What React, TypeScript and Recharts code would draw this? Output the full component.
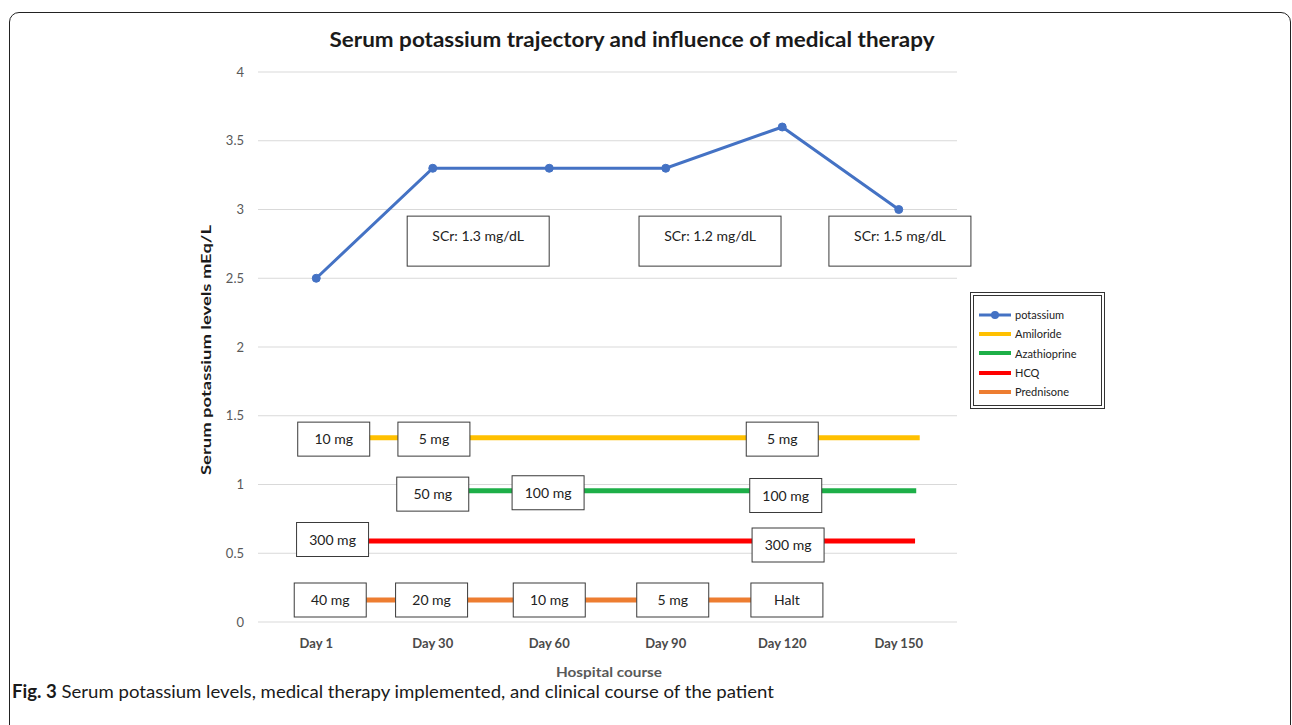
import React from 'react';
import { ComposedChart, Line, Scatter, XAxis, YAxis, CartesianGrid, Legend } from 'recharts';

// ---- data ----
const dayLabels = ['Day 1', 'Day 30', 'Day 60', 'Day 90', 'Day 120', 'Day 150'];
const dayIndex = [0, 1, 2, 3, 4, 5];
const yTicks = [0, 0.5, 1, 1.5, 2, 2.5, 3, 3.5, 4];
const potassiumValues = [2.5, 3.3, 3.3, 3.3, 3.6, 3.0];

// medication therapy lines: [start day index, end day index] at a display level
const amilorideLine = [{ x: 0, y: 1.34 }, { x: 5.18, y: 1.34 }];
const azathioprineLine = [{ x: 1, y: 0.955 }, { x: 5.15, y: 0.955 }];
const hcqLine = [{ x: 0, y: 0.59 }, { x: 5.14, y: 0.59 }];
const prednisoneLine = [{ x: 0, y: 0.16 }, { x: 4, y: 0.16 }];

// dose annotations
const amilorideDoses = [
  { x: 0.15, y: 1.33, label: '10 mg' },
  { x: 1.01, y: 1.33, label: '5 mg' },
  { x: 4.0, y: 1.33, label: '5 mg' },
];
const azathioprineDoses = [
  { x: 1.0, y: 0.93, label: '50 mg' },
  { x: 1.99, y: 0.94, label: '100 mg' },
  { x: 4.03, y: 0.92, label: '100 mg' },
];
const hcqDoses = [
  { x: 0.14, y: 0.6, label: '300 mg' },
  { x: 4.05, y: 0.56, label: '300 mg' },
];
const prednisoneDoses = [
  { x: 0.12, y: 0.16, label: '40 mg' },
  { x: 0.99, y: 0.16, label: '20 mg' },
  { x: 2.0, y: 0.16, label: '10 mg' },
  { x: 3.06, y: 0.16, label: '5 mg' },
  { x: 4.04, y: 0.16, label: 'Halt' },
];
const scrNotes = [
  { x: 1.39, y: 2.77, label: 'SCr: 1.3 mg/dL' },
  { x: 3.38, y: 2.77, label: 'SCr: 1.2 mg/dL' },
  { x: 5.01, y: 2.77, label: 'SCr: 1.5 mg/dL' },
];

const potassiumData = potassiumValues.map((v, i) => ({ x: dayIndex[i], y: v }));

const FONT = 'Lato, "Liberation Sans", Arial, sans-serif';

const COLORS: Record<string, string> = {
  potassium: '#4472C4',
  Amiloride: '#FFC000',
  Azathioprine: '#1DAF48',
  HCQ: '#FF0000',
  Prednisone: '#ED7D31',
};

const makeBox = (w: number, h: number, textDy: number) => (props: any) => {
  const { cx, cy, payload } = props;
  if (cx == null || cy == null) return null;
  return (
    <g>
      <rect x={cx - w / 2} y={cy - h / 2} width={w} height={h} fill="#ffffff" stroke="#3a3a3a" strokeWidth={1} />
      <text x={cx} y={cy + textDy} textAnchor="middle" fontSize={14} fontFamily={FONT} fill="#222">
        {payload.label}
      </text>
    </g>
  );
};

const doseBox = makeBox(72, 34, 5);
const scrBox = makeBox(142, 50, 0);

const legendOrder = ['potassium', 'Amiloride', 'Azathioprine', 'HCQ', 'Prednisone'];

const renderLegend = (props: any) => {
  const payload = (props.payload || []).filter((p: any) => legendOrder.includes(p.value));
  payload.sort((a: any, b: any) => legendOrder.indexOf(a.value) - legendOrder.indexOf(b.value));
  return (
    <div style={{ border: '1px solid #333', padding: 2, width: 135, height: 117, boxSizing: 'border-box', background: '#fff' }}>
      <div style={{ border: '1px solid #333', width: '100%', height: '100%', boxSizing: 'border-box', paddingTop: 9 }}>
        {payload.map((p: any) => (
          <div key={p.value} style={{ display: 'flex', alignItems: 'center', height: 19.3, paddingLeft: 4 }}>
            <svg width={34} height={10} style={{ display: 'block' }}>
              <line x1={1} y1={5} x2={33} y2={5} stroke={p.color} strokeWidth={p.value === 'potassium' ? 3 : 4} />
              {p.value === 'potassium' && <circle cx={17} cy={5} r={4} fill={p.color} />}
            </svg>
            <span style={{ fontFamily: FONT, fontSize: 11, color: '#222', marginLeft: 3 }}>{p.value}</span>
          </div>
        ))}
      </div>
    </div>
  );
};

export default function App() {
  return (
    <div style={{ position: 'relative', width: 1292, height: 725, background: '#fff', overflow: 'hidden' }}>
      <style>{'body{margin:0;background:#fff;}'}</style>
      <div
        style={{
          position: 'absolute',
          left: 9,
          top: 12,
          width: 1282,
          height: 800,
          border: '1.5px solid #222',
          borderRadius: 10,
          boxSizing: 'border-box',
        }}
      />
      <div style={{ position: 'absolute', left: 0, top: 0 }}>
        <ComposedChart width={1292} height={725} margin={{ top: 72, left: 198, right: 335, bottom: 63 }}>
          <CartesianGrid vertical={false} stroke="#d9d9d9" />
          <XAxis
            dataKey="x"
            type="number"
            domain={[-0.5, 5.5]}
            ticks={dayIndex}
            tickFormatter={(v: number) => dayLabels[v]}
            axisLine={false}
            tickLine={false}
            height={40}
            tickMargin={11}
            interval={0}
            tick={{ fill: '#4a4a4a', fontSize: 13, fontFamily: FONT, fontWeight: 700 }}
          />
          <YAxis
            type="number"
            domain={[0, 4]}
            ticks={yTicks}
            axisLine={false}
            tickLine={false}
            width={60}
            tickMargin={8}
            interval={0}
            tick={{ fill: '#595959', fontSize: 13, fontFamily: FONT }}
          />
          <Line data={prednisoneLine} dataKey="y" name="Prednisone" stroke={COLORS.Prednisone} strokeWidth={5} dot={false} isAnimationActive={false} />
          <Line data={hcqLine} dataKey="y" name="HCQ" stroke={COLORS.HCQ} strokeWidth={5} dot={false} isAnimationActive={false} />
          <Line data={azathioprineLine} dataKey="y" name="Azathioprine" stroke={COLORS.Azathioprine} strokeWidth={5} dot={false} isAnimationActive={false} />
          <Line data={amilorideLine} dataKey="y" name="Amiloride" stroke={COLORS.Amiloride} strokeWidth={5} dot={false} isAnimationActive={false} />
          <Line
            data={potassiumData}
            dataKey="y"
            name="potassium"
            stroke={COLORS.potassium}
            strokeWidth={3}
            dot={{ r: 4, fill: COLORS.potassium, stroke: COLORS.potassium, strokeWidth: 1 }}
            activeDot={false}
            isAnimationActive={false}
          />
          <Scatter data={amilorideDoses} dataKey="y" name="amiloride doses" legendType="none" shape={doseBox} isAnimationActive={false} />
          <Scatter data={azathioprineDoses} dataKey="y" name="azathioprine doses" legendType="none" shape={doseBox} isAnimationActive={false} />
          <Scatter data={hcqDoses} dataKey="y" name="hcq doses" legendType="none" shape={doseBox} isAnimationActive={false} />
          <Scatter data={prednisoneDoses} dataKey="y" name="prednisone doses" legendType="none" shape={doseBox} isAnimationActive={false} />
          <Scatter data={scrNotes} dataKey="y" name="scr notes" legendType="none" shape={scrBox} isAnimationActive={false} />
          <Legend
            layout="horizontal"
            verticalAlign="middle"
            align="center"
            content={renderLegend}
            wrapperStyle={{ position: 'absolute', left: 970, top: 292, width: 135, height: 117 }}
          />
        </ComposedChart>
      </div>
      <svg width={1292} height={725} style={{ position: 'absolute', left: 0, top: 0, pointerEvents: 'none' }}>
        <text x={632} y={47} textAnchor="middle" fontFamily={FONT} fontWeight={700} fontSize={20} fill="#1a1a1a" textLength={605} lengthAdjust="spacingAndGlyphs">
          Serum potassium trajectory and influence of medical therapy
        </text>
        <text
          transform="translate(211,350) rotate(-90)"
          textAnchor="middle"
          fontFamily={FONT}
          fontWeight={700}
          fontSize={13}
          fill="#1a1a1a"
          textLength={250}
          lengthAdjust="spacingAndGlyphs"
        >
          Serum potassium levels mEq/L
        </text>
        <text x={609} y={677} textAnchor="middle" fontFamily={FONT} fontWeight={700} fontSize={13} fill="#595959" textLength={106} lengthAdjust="spacingAndGlyphs">
          Hospital course
        </text>
        <text x={12} y={698} fontFamily={FONT} fontSize={18} fill="#1a1a1a" textLength={762} lengthAdjust="spacingAndGlyphs">
          <tspan fontWeight={700}>Fig. 3</tspan>
          <tspan> Serum potassium levels, medical therapy implemented, and clinical course of the patient</tspan>
        </text>
      </svg>
    </div>
  );
}
